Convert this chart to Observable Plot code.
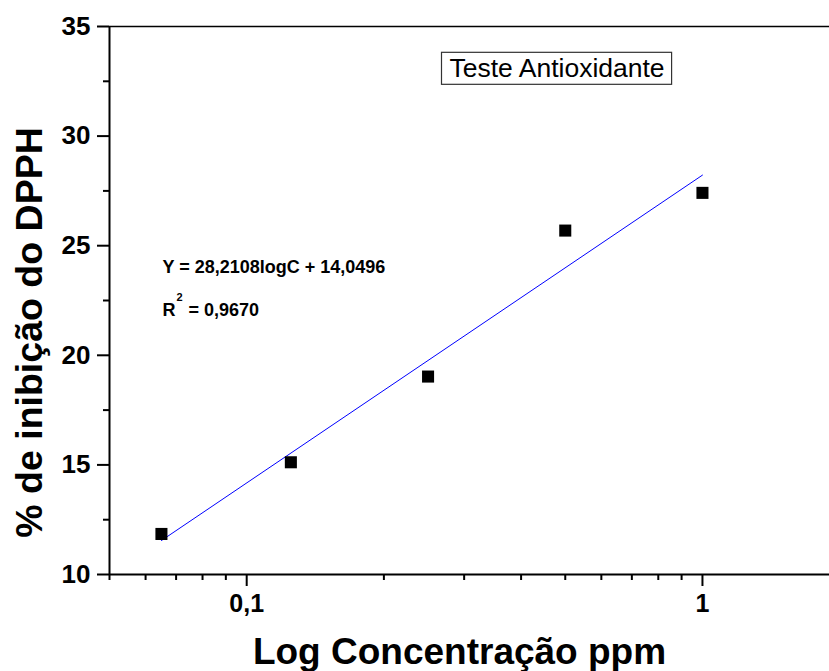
<!DOCTYPE html>
<html><head><meta charset="utf-8">
<script src="https://cdn.jsdelivr.net/npm/d3@7"></script>
<script src="https://cdn.jsdelivr.net/npm/@observablehq/plot@0.6"></script>
<style>body{margin:0;background:#fff} svg{display:block}</style>
</head><body><div id="chart"></div>
<script>
// Data
const concentration = [0.065, 0.125, 0.25, 0.5, 1];
const inhibition = [11.85, 15.12, 19.03, 25.69, 27.41];
const fitConcentration = [0.065, 1];
const fitInhibition = [11.55, 28.22];
const xMajorTicks = [0.1, 1];
const xMinorTicks = [0.05, 0.06, 0.07, 0.08, 0.09, 0.2, 0.3, 0.4, 0.5, 0.6, 0.7, 0.8, 0.9];
const yMajorTicks = [10, 15, 20, 25, 30, 35];
const yMinorTicks = [12.5, 17.5, 22.5, 27.5, 32.5];
const xTitle = "Log Concentração ppm";
const yTitle = "% de inibição do DPPH";
const legendLabel = "Teste Antioxidante";
const equationText = "Y = 28,2108logC + 14,0496";
const r2Label = "R";
const r2Exponent = "2";
const r2Value = "= 0,9670";

const points = concentration.map((c, i) => ({c, v: inhibition[i]}));
const fit = fitConcentration.map((c, i) => ({c, v: fitInhibition[i]}));
const font = "'Liberation Sans', Arial, Helvetica, sans-serif";
const fmtX = d => String(d).replace(".", ",");
const xMin = 0.05;

const chart = Plot.plot({
  width: 829, height: 671,
  marginLeft: 109, marginRight: 0, marginTop: 26, marginBottom: 97,
  style: {fontFamily: font, background: "#fff", color: "#000"},
  x: {type: "log", domain: [xMin, 1.9]},
  y: {domain: [10, 35]},
  marks: [
    Plot.axisX({ticks: xMinorTicks, tickSize: 6, strokeWidth: 2, tickFormat: () => "", label: null}),
    Plot.axisX({ticks: xMajorTicks, tickSize: 12, strokeWidth: 2, tickFormat: () => "", label: null}),
    Plot.axisY({ticks: yMinorTicks, tickSize: 6, strokeWidth: 2, tickFormat: () => "", label: null}),
    Plot.axisY({ticks: yMajorTicks, tickSize: 12, strokeWidth: 2, tickFormat: () => "", label: null}),
    // tick labels
    Plot.text(xMajorTicks, {x: d => d, text: fmtX, frameAnchor: "bottom", lineAnchor: "top", textAnchor: "middle",
      dy: 20, fontSize: 25, fontWeight: "bold"}),
    Plot.text(yMajorTicks, {x: () => xMin, y: d => d, text: d => String(d), textAnchor: "end", lineAnchor: "middle",
      dx: -19, fontSize: 26, fontWeight: "bold"}),
    Plot.ruleY([10], {strokeWidth: 2}),
    Plot.ruleY([35], {strokeWidth: 1.5}),
    Plot.ruleX([xMin], {strokeWidth: 2}),
    Plot.line(fit, {x: "c", y: "v", stroke: "#0000ff", strokeWidth: 1}),
    Plot.dot(points, {x: "c", y: "v", symbol: "square", r: 6.8, fill: "#000", stroke: "none"}),
    Plot.text([xTitle], {frameAnchor: "bottom", textAnchor: "middle", lineAnchor: "middle", dx: -10, dy: 78, fontSize: 37, fontWeight: "bold"}),
    Plot.text([yTitle], {frameAnchor: "left", textAnchor: "middle", lineAnchor: "middle", dx: -79.5, dy: 32, rotate: -90, fontSize: 37.5, fontWeight: "bold"}),
    Plot.text([equationText], {frameAnchor: "top-left", textAnchor: "start", lineAnchor: "top", dx: 53, dy: 234, fontSize: 18, fontWeight: "bold"}),
    Plot.text([r2Label], {frameAnchor: "top-left", textAnchor: "start", lineAnchor: "top", dx: 53, dy: 277, fontSize: 18, fontWeight: "bold"}),
    Plot.text([r2Exponent], {frameAnchor: "top-left", textAnchor: "start", lineAnchor: "top", dx: 67, dy: 267, fontSize: 11, fontWeight: "bold"}),
    Plot.text([r2Value], {frameAnchor: "top-left", textAnchor: "start", lineAnchor: "top", dx: 79, dy: 277, fontSize: 18, fontWeight: "bold"}),
    Plot.text([legendLabel], {frameAnchor: "top-left", textAnchor: "start", lineAnchor: "top", dx: 340, dy: 32, fontSize: 26.5, fontWeight: "normal"})
  ]
});
document.getElementById("chart").appendChild(chart);

// Box around the legend label, sized from the rendered text
const legendText = Array.from(chart.querySelectorAll("text")).find(t => t.textContent === legendLabel);
if (legendText) {
  const b = legendText.getBBox();
  const rect = document.createElementNS("http://www.w3.org/2000/svg", "rect");
  rect.setAttribute("x", b.x - 8);
  rect.setAttribute("y", b.y - 1);
  rect.setAttribute("width", b.width + 15);
  rect.setAttribute("height", b.height + 2);
  rect.setAttribute("fill", "none");
  rect.setAttribute("stroke", "#333");
  rect.setAttribute("stroke-width", "1.2");
  const tr = legendText.getAttribute("transform");
  if (tr) rect.setAttribute("transform", tr);
  legendText.parentNode.insertBefore(rect, legendText);
}
</script>
</body></html>
